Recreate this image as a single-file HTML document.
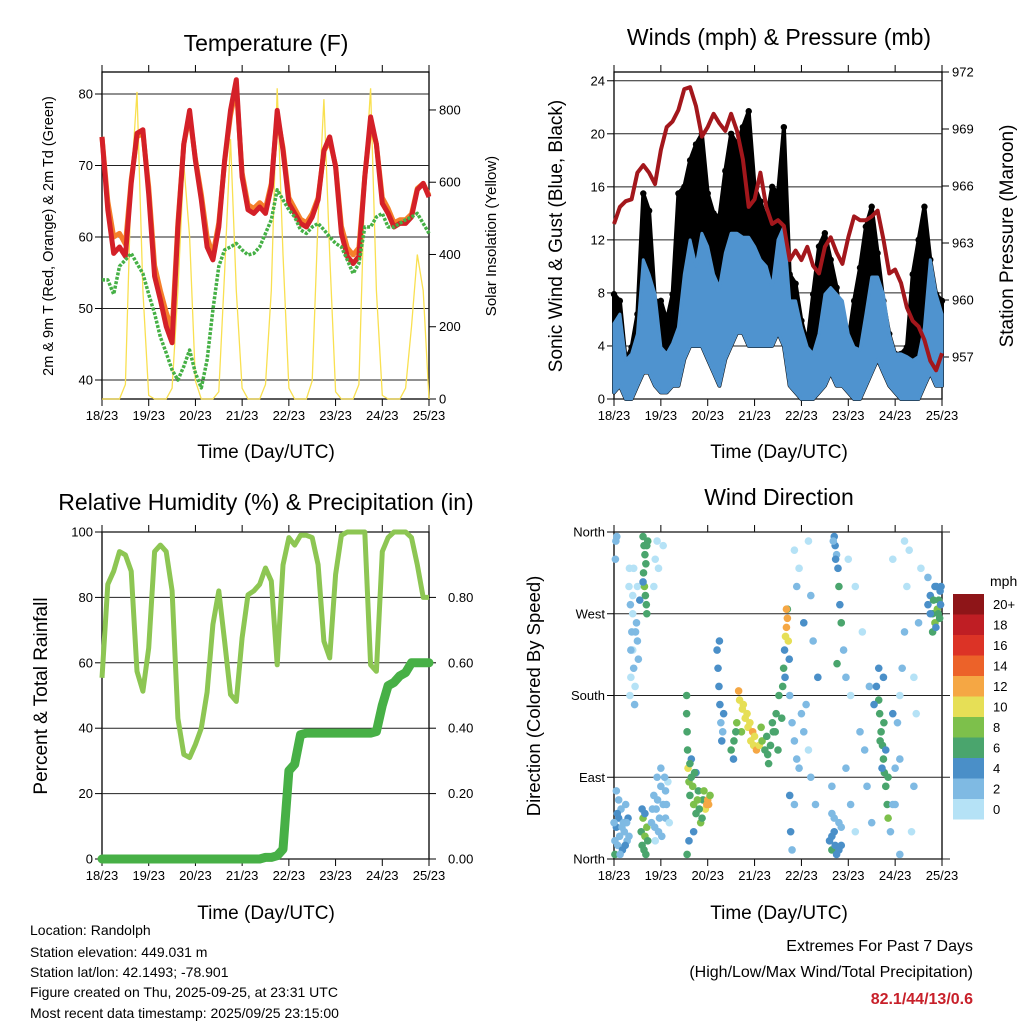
<!DOCTYPE html>
<html><head><meta charset="utf-8"><style>
html,body{margin:0;padding:0;background:#fff;}
svg{display:block;font-family:"Liberation Sans",Arial,sans-serif;}
</style></head><body>
<svg id="c" width="1024" height="1024" viewBox="0 0 1024 1024" xmlns="http://www.w3.org/2000/svg">
<rect width="1024" height="1024" fill="#fff"/>
<text x="266" y="51" font-size="23" text-anchor="middle">Temperature (F)</text>
<text x="779" y="45" font-size="23" text-anchor="middle">Winds (mph) &amp; Pressure (mb)</text>
<text x="266" y="510" font-size="23" text-anchor="middle">Relative Humidity (%) &amp; Precipitation (in)</text>
<text x="779" y="505" font-size="23" text-anchor="middle">Wind Direction</text>
<text x="266" y="458" font-size="19" text-anchor="middle">Time (Day/UTC)</text>
<text x="779" y="458" font-size="19" text-anchor="middle">Time (Day/UTC)</text>
<text x="266" y="919" font-size="19" text-anchor="middle">Time (Day/UTC)</text>
<text x="779" y="919" font-size="19" text-anchor="middle">Time (Day/UTC)</text>
<text transform="translate(53,236) rotate(-90)" font-size="14.5" text-anchor="middle">2m &amp; 9m T (Red, Orange) &amp; 2m Td (Green)</text>
<text transform="translate(496,236) rotate(-90)" font-size="15" text-anchor="middle">Solar Insolation (Yellow)</text>
<text transform="translate(562,236) rotate(-90)" font-size="19" text-anchor="middle">Sonic Wind &amp; Gust (Blue, Black)</text>
<text transform="translate(1013,236) rotate(-90)" font-size="19" text-anchor="middle">Station Pressure (Maroon)</text>
<text transform="translate(47,696) rotate(-90)" font-size="19" text-anchor="middle">Percent &amp; Total Rainfall</text>
<text transform="translate(540,696) rotate(-90)" font-size="18.5" text-anchor="middle">Direction (Colored By Speed)</text>
<g font-size="14">
<text x="30" y="935">Location: Randolph</text>
<text x="30" y="957">Station elevation: 449.031 m</text>
<text x="30" y="977">Station lat/lon: 42.1493; -78.901</text>
<text x="30" y="997">Figure created on Thu, 2025-09-25, at 23:31 UTC</text>
<text x="30" y="1018">Most recent data timestamp: 2025/09/25 23:15:00</text>
</g>
<text x="973" y="951" font-size="16" text-anchor="end">Extremes For Past 7 Days</text>
<text x="973" y="977" font-size="16" text-anchor="end">(High/Low/Max Wind/Total Precipitation)</text>
<text x="973" y="1004" font-size="16" font-weight="bold" fill="#c8202a" text-anchor="end">82.1/44/13/0.6</text>
<text x="990" y="586" font-size="14">mph</text>
</svg>
<script>
const days = ["18/23","19/23","20/23","21/23","22/23","23/23","24/23","25/23"];
const tempRed = [74,63.8,57.7,58.6,57.3,67.5,74.5,75,66,54.5,51.2,47.5,45.2,61.4,73,77.7,70.7,65.2,58.6,56.8,61.4,70.7,77.7,82,68.4,63.8,63.3,64.2,63.3,67,77.7,72.1,64.7,63.3,61.9,61.4,62.8,65.2,72.1,74,69.8,60.5,57.3,56.3,57.3,68.4,76.8,73,64.7,63.3,61.4,61.9,61.9,62.8,66.6,67.5,65.6];
const tempOrange = [74,65,60,60.5,59,68,74,74.5,67,56,52.5,49.5,47,62,73,77,71,66,60,57.5,62,70.5,77,81,69,64.5,64,64.8,64,67.5,77,72.5,65.5,64,62.5,62,63.3,65.5,72,73.5,70,61.5,58.5,57.5,58.5,68.5,76,73,65.5,64,62,62.4,62.4,63.2,66.8,67.5,65.8];
const dewGreen = [54,54,52,55.9,56.8,57.7,56.3,54.9,52,49.3,46,43.8,41.4,40,41.9,44.2,41,38.9,42.8,49.8,55.9,58.2,58.6,59.1,58.2,57.5,57.7,58.6,60.5,62.4,66.6,65.2,63.8,62.8,61,60.5,61.4,61.9,61,60,59.1,58.6,56.8,54.9,56.3,61.4,61.4,62.8,63.3,61.4,61.4,61.9,62.4,62.8,63.3,61.9,60.5];
const solar = [0,0,0,0,40,600,850,300,10,0,0,0,30,300,650,450,50,0,0,0,20,350,720,300,30,0,0,0,40,300,860,400,30,0,0,0,50,500,830,400,20,0,0,0,40,600,860,300,10,0,0,0,30,200,400,300,0];
const windLow = [0.5,1,0,0,1,2,2,1,0.5,0.5,1,1,3,4,4,4,3,2,1,3,4,5,5,4,4,4,4,4,5,4,1,0.5,0,0,0,0.5,1,2,1,1,0.5,0,0,1,2,3,2,1,0.5,0,0,0,0,1,2,1,1];
const windHigh = [5.7,6.4,2.9,3.4,4.9,10.5,9.4,7.9,3.9,3.4,4.2,5.4,9.4,12,10,12.5,11.5,9.4,8.4,11,12.5,12.5,12.2,12.2,11.5,10.5,10,8.4,12,13,7.4,7.4,5.4,3.9,3.4,4.9,7.9,8.4,7.9,7.4,4.9,3.9,3.7,6.4,9.2,9.2,7.9,4.9,3.4,3.4,3.2,2.9,3.2,5.4,10.5,7.9,6.4];
const gust = [7.9,7.4,2.9,3.9,6.4,15.5,14.2,7.4,7.4,5.9,7.9,15.5,16,18,19.2,20,15.5,14,13.7,17.2,20,19.2,20.5,21.7,16,14.9,13.5,16,15.5,20.5,9.4,8.7,5.9,4.2,7.9,11.5,12.5,10.5,8.4,4.9,4.4,7.4,9.9,13,14.5,11,7.4,4.9,3.4,3.4,3.9,9.4,12,14.5,10.5,7.9,7.4];
const pressure = [964,964.9,965.2,965.3,966.7,967.1,966.7,966.1,967.9,969.1,969.4,970,971.1,971.2,970.2,968.6,969.1,969.8,969.3,968.9,969.8,968.9,967.4,964.9,965.3,966.7,964.9,964,964.2,963.9,962.1,962.6,962.1,962.8,961.8,961.4,962.8,963.3,962.5,961.9,963.3,964.4,964.2,964.2,964.4,964.7,963.2,961.4,961.6,960.9,959.6,958.9,958.6,957.9,956.8,956.3,957.2];
const rh = [55.4,84,88,94,93,88,57.4,51.3,64.5,94,96,94,82,43,32,31,35,40,51,71.7,82,66.6,50.3,48.2,67.6,80.8,82,84,89,85,59.4,89.9,98.3,96,99,99,98.3,90,66.6,61.5,87,99,100,100,100,100,59.4,57.4,94,98.3,100,100,100,98.3,90,80,80];
const precip = [0,0,0,0,0,0,0,0,0,0,0,0,0,0,0,0,0,0,0,0,0,0,0,0,0,0,0,0,0.005,0.005,0.01,0.03,0.27,0.29,0.38,0.385,0.385,0.385,0.385,0.385,0.385,0.385,0.385,0.385,0.385,0.385,0.385,0.39,0.47,0.53,0.54,0.56,0.57,0.6,0.6,0.6,0.6];
const dirDay = [0.02,0.05,0.08,0.1,0.12,0.15,0.18,0.2,0.22,0.25,0.28,0.3,0.05,0.02,0.04,0.06,0.03,
0.32,0.35,0.38,0.4,0.42,0.45,0.48,0.5,0.52,0.36,0.44,0.5,0.33,0.4,0.55,
0.62,0.64,0.66,0.68,0.7,0.63,0.65,0.67,0.69,0.72,0.62,0.7,
0.58,0.6,0.62,0.64,0.66,0.68,0.7,0.72,0.6,0.66,
0.8,0.85,0.9,0.95,1.0,1.05,1.1,1.15,0.88,1.0,1.1,0.92,0.88,0.95,1.05,0.92,0.85,
1.55,1.55,1.56,1.57,1.58,1.6,1.62,1.65,1.7,1.75,1.8,1.85,1.9,1.95,2.0,2.02,2.05,1.6,1.56,1.7,1.65,1.75,
2.2,2.22,2.24,2.26,2.28,2.3,2.32,2.34,2.25,
2.5,2.56,2.62,2.68,2.74,2.8,2.86,2.92,2.98,3.04,3.1,3.16,3.22,3.28,3.34,3.4,3.46,3.52,2.66,2.72,2.84,2.96,2.55,3.3,
3.6,3.62,3.64,3.66,3.68,3.7,3.72,3.74,3.7,3.65,3.68,
3.75,3.8,3.85,3.9,3.95,4.0,4.05,4.1,4.15,4.2,3.77,3.8,3.85,3.9,3.95,4.05,4.15,4.25,4.3,4.35,3.75,3.85,4.2,
4.6,4.65,4.7,4.75,4.8,4.85,4.65,4.7,4.72,4.75,4.78,4.8,4.82,4.85,4.9,4.95,4.76,4.65,
4.95,5.05,5.15,5.25,5.35,5.0,5.15,5.3,5.45,5.4,5.5,5.05,
5.6,5.65,5.67,5.7,5.73,5.75,5.77,5.8,5.83,5.85,5.65,5.75,
5.9,5.95,6.0,6.05,6.1,6.15,6.2,6.25,6.3,6.35,6.4,6.45,6.5,6.55,5.95,6.1,6.2,6.4,
6.7,6.75,6.8,6.85,6.9,6.93,6.96,6.98,6.8,6.88,6.95,6.7,
0.0,0.07,0.13,0.17,0.24,0.27,0.32,0.1,0.36,0.4,0.46,0.34,0.42,
0.82,0.87,0.93,0.97,1.02,1.08,1.12,1.18,
1.62,1.68,1.72,1.78,1.82,1.88,1.92,1.98,
2.6,2.76,2.9,3.0,3.14,3.26,3.38,3.5,3.58,3.44,
4.65,4.7,4.72,4.8,4.85,4.68,4.73,
5.68,5.72,5.76,5.8,5.85,5.55,5.95,6.0,6.1,
6.75,6.82,6.87,6.92,6.97,6.85];
const dirDeg = [20,35,15,45,25,55,10,40,30,60,20,45,75,5,350,355,330,
300,280,250,230,210,190,260,240,220,200,170,300,320,270,285,
355,345,335,325,345,315,300,290,280,350,305,270,
30,15,45,10,25,5,35,20,55,50,
40,70,55,30,80,60,45,85,20,100,75,90,330,320,345,350,300,
180,160,140,120,100,85,70,90,60,50,75,40,65,55,65,60,70,20,5,30,110,95,
230,210,190,170,150,130,140,160,240,
120,130,150,175,165,155,145,130,125,120,125,130,120,115,125,140,160,180,185,140,160,140,110,105,
190,210,230,245,255,265,240,220,275,200,275,
180,150,130,110,100,160,140,170,120,90,30,10,60,300,320,260,350,240,60,200,70,340,290,
20,10,30,5,40,15,50,355,345,335,320,300,280,260,230,200,215,80,
100,60,30,140,120,330,300,250,190,80,40,180,
190,175,160,140,125,110,95,80,60,45,210,200,
30,60,100,150,180,210,250,300,340,30,80,160,260,320,330,5,350,200,
280,290,270,260,275,285,295,300,250,300,265,310,
40,50,5,35,15,40,25,65,230,290,250,180,320,
55,35,65,45,25,90,60,40,
105,80,95,65,55,45,75,60,
140,170,150,135,145,135,150,120,155,140,
25,45,15,10,35,350,330,
130,100,150,120,90,170,160,60,110,
270,285,255,270,280,300];
const dirSpd = [3,4,3,4,2,3,4,3,2,3,2,4,2,6,2,3,2,
1,2,2,1,2,1,3,2,3,1,2,1,0,1,4,
6,7,6,7,6,6,9,6,7,6,4,6,
6,7,9,6,8,7,9,6,4,4,
2,3,2,3,2,3,2,1,1,2,3,2,1,0,1,0,1,
6,7,6,7,11,8,7,6,8,7,6,8,7,11,12,12,8,5,6,4,5,4,
4,4,4,4,3,4,3,4,4,
6,7,8,10,10,10,10,11,10,12,10,8,7,6,7,6,7,7,12,9,10,12,4,6,
7,6,4,10,12,12,10,4,7,4,12,
3,2,3,2,2,3,3,2,1,2,4,3,2,3,1,4,1,3,3,4,4,1,2,
4,6,4,5,3,4,3,4,4,3,4,6,4,6,3,2,6,2,
2,2,1,2,2,1,0,1,2,3,2,1,
4,6,6,7,6,6,6,7,6,8,4,5,
3,2,3,2,1,2,2,1,1,1,2,1,2,1,1,2,0,1,
4,5,6,8,9,6,4,4,7,4,6,3,
3,4,3,2,4,3,2,2,2,1,2,1,1,
2,2,3,2,2,2,2,1,
7,8,6,8,6,7,8,12,
6,10,11,10,9,6,7,6,6,6,
4,3,5,4,3,3,4,
6,5,6,5,6,4,4,3,2,
5,6,5,6,5,4];
const speedLabels = ["0","2","4","6","8","10","12","14","16","18","20+"];
const speedColors = ["#b5e2f6","#7fbae3","#4a8fc8","#4aa56d","#7dc04b","#e6df56","#f5a744","#ec6229","#dc3326","#bf1e24","#8e1518"];
const tempTicks = [40,50,60,70,80];
const solarTicks = [0,200,400,600,800];
const windTicks = [0,4,8,12,16,20,24];
const presTicks = [957,960,963,966,969,972];
const rhTicks = [0,20,40,60,80,100];
const rainTicks = ["0.00","0.20","0.40","0.60","0.80"];
const dirTicks = ["North","East","South","West","North"];

const svg = document.getElementById('c');
const NS = 'http://www.w3.org/2000/svg';
function mk(tag, attrs, parent){const e=document.createElementNS(NS,tag);for(const k in attrs)e.setAttribute(k,attrs[k]);(parent||svg).appendChild(e);return e;}
const N = 56;
function P(x0,x1,y0,y1){return {x0,x1,y0,y1,xi:i=>x0+(x1-x0)*i/N,xd:d=>x0+(x1-x0)*d/7};}
const p1=P(102,429,72,399), p2=P(614,942,72,399), p3=P(102,429,532,859), p4=P(614,942,532,859);
const yT=v=>94+(80-v)*7.15, yS=v=>399-v*0.3613;
const yW=v=>399-v*13.26, yP=v=>72+(972-v)*19;
const yR=v=>859-v*3.27, yDir=v=>859-v/360*327;

function frame(p,name){
  const g=mk('g',{});
  
  
  mk('rect',{x:p.x0,y:p.y0,width:p.x1-p.x0,height:p.y1-p.y0,fill:'none',stroke:'#000','stroke-width':1.3},g);
  for(let i=0;i<days.length;i++){
    const x=p.xd(i);
    mk('line',{x1:x,x2:x,y1:p.y1,y2:p.y1+7,stroke:'#000','stroke-width':1},g);
    mk('line',{x1:x,x2:x,y1:p.y0,y2:p.y0-7,stroke:'#000','stroke-width':1},g);
    const t=mk('text',{x:x,y:p.y1+21,'font-size':13,'text-anchor':'middle'},g);
    t.textContent=days[i];
    
    
  }
  return g;
}
function hgrid(p,y,g,ext){mk('line',{x1:p.x0,x2:p.x1+(ext||0),y1:y,y2:y,stroke:'#222','stroke-width':1},g);}
function label(x,y,txt,anchor,g,name){const t=mk('text',{x:x,y:y+4.5,'font-size':13,'text-anchor':anchor},g);t.textContent=txt;}
function path(pts){return pts.map((q,i)=>(i?'L':'M')+q[0].toFixed(1)+' '+q[1].toFixed(1)).join(' ');}

// Panel 1
const g1=frame(p1,'temperature');
tempTicks.forEach(v=>{hgrid(p1,yT(v),g1);mk('line',{x1:p1.x0-7,x2:p1.x0,y1:yT(v),y2:yT(v),stroke:'#000'},g1);label(p1.x0-9,yT(v),String(v),'end',g1,'temp-tick-label');});
solarTicks.forEach(v=>{mk('line',{x1:p1.x1,x2:p1.x1+7,y1:yS(v),y2:yS(v),stroke:'#000'},g1);label(p1.x1+10,yS(v),String(v),'start',g1,'solar-tick-label');});
const sl=mk('path',{d:path(solar.map((v,i)=>[p1.xi(i),yS(v)])),fill:'none',stroke:'#f9e050','stroke-width':1.3});


const ol=mk('path',{d:path(tempOrange.map((v,i)=>[p1.xi(i),yT(v)])),fill:'none',stroke:'#f57f2a','stroke-width':5,'stroke-linejoin':'round'});


const rl=mk('path',{d:path(tempRed.map((v,i)=>[p1.xi(i),yT(v)])),fill:'none',stroke:'#d42028','stroke-width':5,'stroke-linejoin':'round'});


const gl=mk('path',{d:path(dewGreen.map((v,i)=>[p1.xi(i),yT(v)])),fill:'none',stroke:'#45b045','stroke-width':3.5,'stroke-dasharray':'3 1.5','stroke-linejoin':'round'});



// Panel 2
const g2=frame(p2,'winds');
windTicks.forEach(v=>{hgrid(p2,yW(v),g2);mk('line',{x1:p2.x0-7,x2:p2.x0,y1:yW(v),y2:yW(v),stroke:'#000'},g2);label(p2.x0-9,yW(v),String(v),'end',g2,'wind-tick-label');});
presTicks.forEach(v=>{mk('line',{x1:p2.x1,x2:p2.x1+7,y1:yP(v),y2:yP(v),stroke:'#000'},g2);label(p2.x1+10,yP(v),String(v),'start',g2,'pressure-tick-label');});
const gustPts=gust.map((v,i)=>[p2.xi(i),yW(v)]);
const lowPts=windLow.map((v,i)=>[p2.xi(i),yW(v)]).reverse();
const ga=mk('path',{d:path(gustPts.concat(lowPts))+'Z',fill:'#000',stroke:'#000','stroke-width':4,'stroke-linejoin':'round'});


gust.forEach((v,i)=>{
  const c=mk('circle',{cx:p2.xi(i),cy:yW(v),r:3.2,fill:'#000'});
  
  
});
const hiPts=windHigh.map((v,i)=>[p2.xi(i),yW(v)]);
const ba=mk('path',{d:path(hiPts.concat(lowPts))+'Z',fill:'#4f93cf',stroke:'#4f93cf','stroke-width':3,'stroke-linejoin':'round'});


const pl=mk('path',{d:path(pressure.map((v,i)=>[p2.xi(i),yP(v)])),fill:'none',stroke:'#a3171c','stroke-width':4,'stroke-linejoin':'round'});



// Panel 3
const g3=frame(p3,'humidity');
rhTicks.forEach(v=>{hgrid(p3,yR(v),g3);mk('line',{x1:p3.x0-7,x2:p3.x0,y1:yR(v),y2:yR(v),stroke:'#000'},g3);label(p3.x0-9,yR(v),String(v),'end',g3,'rh-tick-label');});
rainTicks.forEach(v=>{const y=yR(parseFloat(v)*100);mk('line',{x1:p3.x1,x2:p3.x1+7,y1:y,y2:y,stroke:'#000'},g3);label(p3.x1+19,y,v,'start',g3,'rain-tick-label');});
const hl=mk('path',{d:path(rh.map((v,i)=>[p3.xi(i),yR(v)])),fill:'none',stroke:'#8dc653','stroke-width':5,'stroke-linejoin':'round'});


const prl=mk('path',{d:path(precip.map((v,i)=>[p3.xi(i),yR(v*100)])),fill:'none',stroke:'#47b046','stroke-width':9,'stroke-linejoin':'round','stroke-linecap':'round'});



// Panel 4
const g4=frame(p4,'wind-direction');
dirTicks.forEach((t,i)=>{const y=yDir(i*90);hgrid(p4,y,g4,8);mk('line',{x1:p4.x0-7,x2:p4.x0,y1:y,y2:y,stroke:'#000'},g4);label(p4.x0-9,y,t,'end',g4,'direction-tick-label');});
dirDay.forEach((d,i)=>{
  const b=Math.min(10,Math.floor(dirSpd[i]/2));
  const c=mk('circle',{cx:p4.xd(d),cy:yDir(dirDeg[i]),r:3.8,fill:speedColors[b]});
  
  
});
speedLabels.forEach((s,i)=>{
  const y=799-i*20.5;
  const r=mk('rect',{x:953,y:y,width:31,height:20.5,fill:speedColors[i]});
  
  
  label(993,y+10.5,s,'start',svg,'colorbar-label');
});
</script>
</body></html>
